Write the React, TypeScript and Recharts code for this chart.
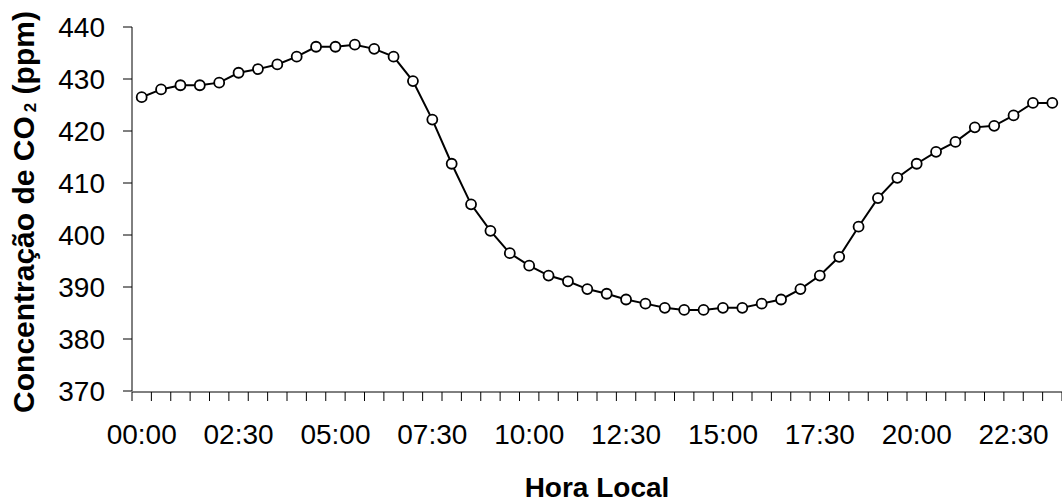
import React from 'react';
import { LineChart, Line, XAxis, YAxis } from 'recharts';

const times: string[] = [
  '00:00', '00:30', '01:00', '01:30', '02:00', '02:30', '03:00', '03:30',
  '04:00', '04:30', '05:00', '05:30', '06:00', '06:30', '07:00', '07:30',
  '08:00', '08:30', '09:00', '09:30', '10:00', '10:30', '11:00', '11:30',
  '12:00', '12:30', '13:00', '13:30', '14:00', '14:30', '15:00', '15:30',
  '16:00', '16:30', '17:00', '17:30', '18:00', '18:30', '19:00', '19:30',
  '20:00', '20:30', '21:00', '21:30', '22:00', '22:30', '23:00', '23:30',
];

const co2: number[] = [
  426.5, 428.0, 428.8, 428.8, 429.3, 431.2, 431.9, 432.8,
  434.3, 436.2, 436.2, 436.6, 435.8, 434.3, 429.6, 422.2,
  413.7, 405.9, 400.8, 396.5, 394.1, 392.2, 391.1, 389.6,
  388.7, 387.6, 386.8, 386.0, 385.6, 385.6, 386.0, 386.0,
  386.8, 387.6, 389.6, 392.2, 395.8, 401.6, 407.1, 411.0,
  413.7, 416.0, 417.9, 420.7, 421.0, 423.0, 425.4, 425.4,
];

const labelTimes: string[] = ['00:00', '02:30', '05:00', '07:30', '10:00', '12:30', '15:00', '17:30', '20:00', '22:30'];
const yTicks: number[] = [370, 380, 390, 400, 410, 420, 430, 440];

const data = times.map((t, i) => ({ i, t, co2: co2[i] }));
const majorTicks = labelTimes.map((t) => times.indexOf(t));
const minorTicks = [...times.map((_, i) => i - 0.5), times.length - 0.5];

const FONT = '"Liberation Sans", Arial, sans-serif';

const YTitle = () => (
  <text
    x={34}
    y={212}
    transform="rotate(-90, 34, 212)"
    textAnchor="middle"
    fontFamily={FONT}
    fontWeight="bold"
    fontSize={30}
    fill="#000"
  >
    Concentração de CO
    <tspan fontSize={17} dx={4} dy={2}>2</tspan>
    <tspan dy={-2}> (ppm)</tspan>
  </text>
);

const XTitle = (props: any) => {
  const vb = props.viewBox || {};
  const cx = (vb.x ?? 132) + (vb.width ?? 930) / 2;
  return (
    <text x={cx} y={497} textAnchor="middle" fontFamily={FONT} fontWeight="bold" fontSize={28} fill="#000">
      Hora Local
    </text>
  );
};

export default function App() {
  return (
    <div style={{ position: 'absolute', left: 0, top: 0, width: 1062, height: 502, background: '#fff' }}>
      <LineChart width={1062} height={502} data={data} margin={{ top: 27, right: 0, bottom: 109, left: 0 }}>
        <XAxis
          xAxisId="minor"
          dataKey="i"
          type="number"
          domain={[-0.5, 47.5]}
          ticks={minorTicks}
          interval={0}
          tickFormatter={() => ''}
          tickSize={9}
          height={1}
          axisLine={{ stroke: '#000', strokeWidth: 1 }}
          tickLine={{ stroke: '#000', strokeWidth: 1 }}
        />
        <XAxis
          xAxisId="major"
          dataKey="i"
          type="number"
          domain={[-0.5, 47.5]}
          ticks={majorTicks}
          interval={0}
          tickFormatter={(v: number) => times[v]}
          tickSize={0}
          tickMargin={33}
          height={1}
          axisLine={false}
          tickLine={false}
          tick={{ fill: '#000', fontSize: 28, fontFamily: FONT }}
          label={{ content: XTitle }}
        />
        <YAxis
          type="number"
          domain={[370, 440]}
          ticks={yTicks}
          interval={0}
          width={132}
          tickSize={9}
          tickMargin={18}
          axisLine={{ stroke: '#000', strokeWidth: 1 }}
          tickLine={{ stroke: '#000', strokeWidth: 1 }}
          tick={{ fill: '#000', fontSize: 28, fontFamily: FONT }}
          label={{ content: YTitle }}
        />
        <Line
          xAxisId="minor"
          dataKey="co2"
          type="linear"
          stroke="#000"
          strokeWidth={2}
          dot={{ r: 5, fill: '#fff', stroke: '#000', strokeWidth: 1.8 }}
          isAnimationActive={false}
        />
      </LineChart>
    </div>
  );
}
